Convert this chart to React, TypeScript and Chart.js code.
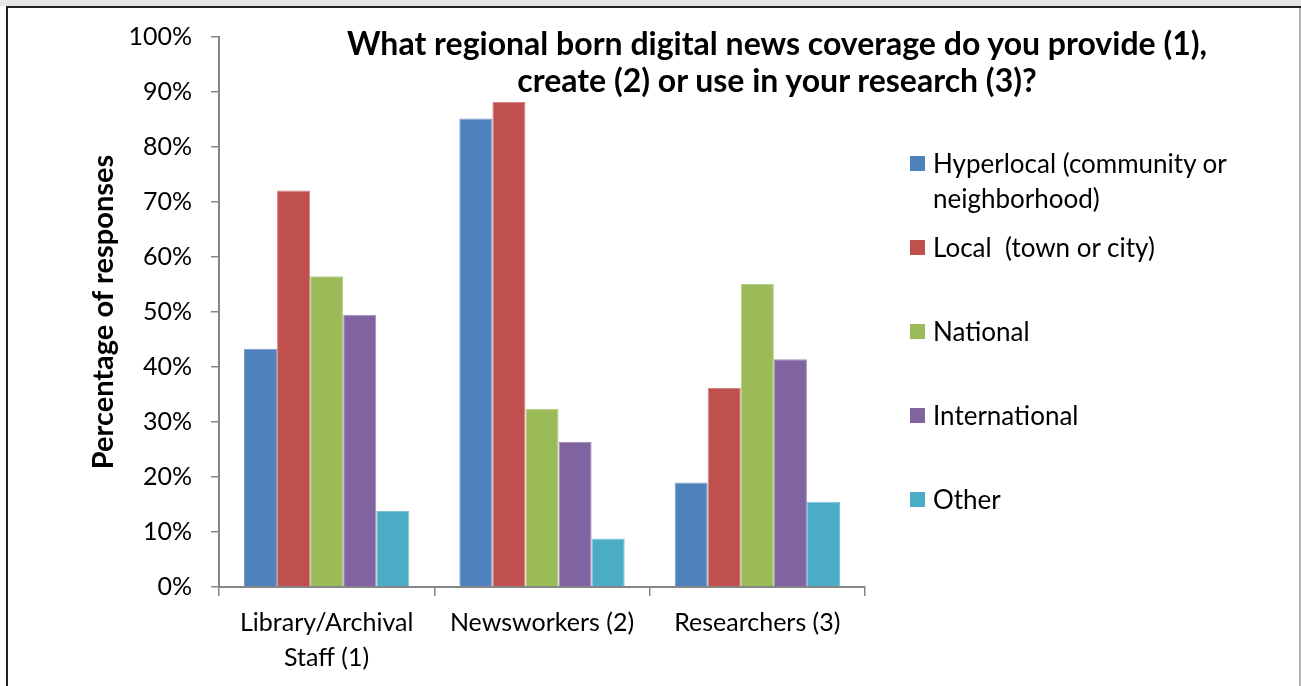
import React, { useEffect, useRef } from "react";
import { Chart, registerables } from "chart.js";

Chart.register(...registerables);

// ---- data ----
const categories: (string | string[])[] = [["Library/Archival", "Staff (1)"], "Newsworkers (2)", "Researchers (3)"];
const seriesNames = ["Hyperlocal (community or neighborhood)", "Local  (town or city)", "National", "International", "Other"];
const legendLines = [["Hyperlocal (community or", "neighborhood)"], ["Local  (town or city)"], ["National"], ["International"], ["Other"]];
const hyperlocal = [43.3, 85.2, 19.0];
const local = [72.1, 88.2, 36.2];
const national = [56.5, 32.4, 55.1];
const international = [49.5, 26.4, 41.4];
const other = [13.8, 8.8, 15.5];
const seriesValues = [hyperlocal, local, national, international, other];
const seriesColors = ["#4F81BD", "#C0504D", "#9BBB59", "#8064A2", "#4BACC6"];
const seriesEdges = ["#7C9FCB", "#D08583", "#B5CD89", "#A28DBB", "#7DC3D6"];
const titleLines = ["What regional born digital news coverage do you provide (1),", "create (2) or use in your research (3)?"];
const yAxisTitle = "Percentage of responses";

const W = 1301;
const H = 686;
const FONT = "Lato, 'Open Sans', sans-serif";

export default function App() {
  const canvasRef = useRef<HTMLCanvasElement | null>(null);

  useEffect(() => {
    const canvas = canvasRef.current;
    if (!canvas) return;
    const chart = new Chart(canvas, {
      type: "bar",
      data: {
        labels: categories,
        datasets: seriesNames.map((name, i) => ({
          label: name,
          data: seriesValues[i],
          backgroundColor: seriesColors[i],
          borderColor: seriesEdges[i],
          borderWidth: 1,
          categoryPercentage: 0.768,
          barPercentage: 1,
        })),
      },
      options: {
        responsive: false,
        animation: false,
        devicePixelRatio: 1,
        layout: { padding: { left: 82, top: 37, right: 436, bottom: 0 } },
        plugins: {
          legend: { display: false },
          title: { display: false },
          tooltip: { enabled: false },
        },
        scales: {
          x: {
            grid: {
              display: true,
              offset: true,
              drawOnChartArea: false,
              drawTicks: true,
              tickLength: 9,
              color: "#868686",
              lineWidth: 1.5,
            },
            border: { display: true, color: "#868686", width: 2 },
            ticks: {
              font: { family: FONT, size: 25, lineHeight: 1.4 },
              color: "#000",
              padding: 9,
              maxRotation: 0,
              autoSkip: false,
            },
            afterFit: (s: any) => {
              s.height = 99;
            },
          },
          y: {
            min: 0,
            max: 100,
            grid: {
              display: true,
              drawOnChartArea: false,
              drawTicks: true,
              tickLength: 8,
              color: "#868686",
              lineWidth: 1.5,
            },
            border: { display: true, color: "#868686", width: 2 },
            ticks: {
              stepSize: 10,
              callback: (v: any) => v + "%",
              font: { family: FONT, size: 25 },
              color: "#000",
              padding: 19,
            },
            title: {
              display: true,
              text: yAxisTitle,
              font: { family: FONT, size: 29, weight: "bold" },
              color: "#000",
              padding: { top: 4, bottom: 4 },
            },
            afterFit: (s: any) => {
              s.width = 219 - 82;
            },
          },
        },
      },
    });
    return () => chart.destroy();
  }, []);

  return (
    <div style={{ position: "fixed", left: 0, top: 0, width: W, height: H, background: "#fff", overflow: "hidden" }}>
      <canvas ref={canvasRef} width={W} height={H} style={{ position: "absolute", left: 0, top: 0 }} />
      {/* frame */}
      <div style={{ position: "absolute", left: 0, top: 0, width: W, height: 6, background: "#e6e6e6" }} />
      <div style={{ position: "absolute", left: 6, top: 6, width: W - 6, height: 2, background: "#222" }} />
      <div style={{ position: "absolute", left: 6, top: 6, width: 2, height: H - 6, background: "#222" }} />
      <div style={{ position: "absolute", left: W - 2, top: 8, width: 2, height: H - 8, background: "#b4b4b4" }} />
      {/* title */}
      <div
        style={{
          position: "absolute",
          left: 277,
          top: 24,
          width: 1000,
          textAlign: "center",
          fontFamily: FONT,
          fontWeight: 700,
          fontSize: 32,
          lineHeight: "37px",
          color: "#000",
          whiteSpace: "pre",
        }}
      >
        {titleLines.map((l, i) => (
          <div key={i}>{l}</div>
        ))}
      </div>
      {/* legend */}
      {legendLines.map((lines, i) => (
        <div key={i} style={{ position: "absolute", left: 910, top: 163 + i * 84 - 17.5 }}>
          <div
            style={{
              position: "absolute",
              left: 0,
              top: 10,
              width: 15,
              height: 15,
              background: seriesColors[i],
            }}
          />
          <div
            style={{
              position: "absolute",
              left: 23,
              top: 0,
              fontFamily: FONT,
              fontSize: 26,
              lineHeight: "35px",
              color: "#000",
              whiteSpace: "pre",
            }}
          >
            {lines.map((l, j) => (
              <div key={j}>{l}</div>
            ))}
          </div>
        </div>
      ))}
    </div>
  );
}
